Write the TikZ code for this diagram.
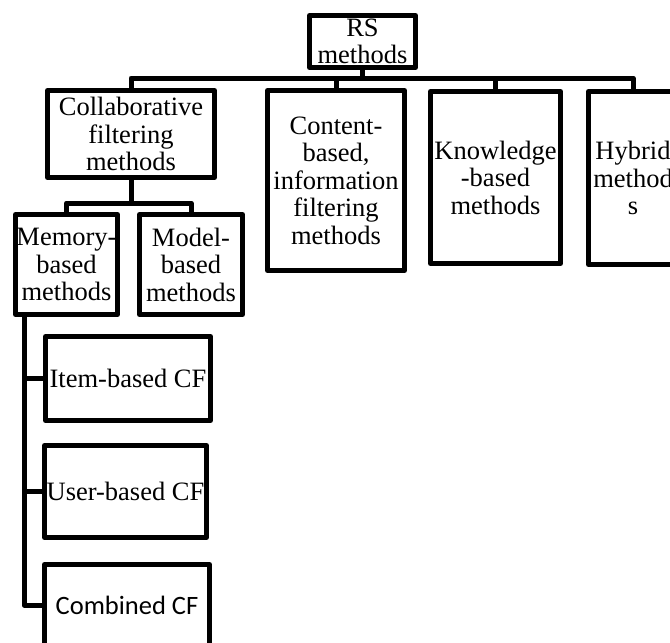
\documentclass[tikz,border=0pt]{standalone}
\usepackage{fontspec}
\setmainfont{Liberation Serif}
\newfontfamily\calibfont{Carlito}
\begin{document}
\begin{tikzpicture}[x=1pt,y=-1pt,
  box/.style={draw, line width=5pt, line join=round, inner sep=0pt, align=center,
    font={\fontsize{26.5}{27.5}\selectfont}},
  link/.style={line width=5pt, line join=round}]
\useasboundingbox (0,0) rectangle (670,643);
\clip (0,0) rectangle (670,643);
% top level
\node[box, minimum width=106pt, minimum height=52pt] (rs) at (362.5,41.5) {RS\\methods};
\node[box, minimum width=167pt, minimum height=87pt] (collab) at (131,134) {Collaborative\\filtering\\methods};
\node[box, minimum width=137pt, minimum height=180pt] (content) at (336,180.5) {Content-\\based,\\information\\filtering\\methods};
\node[box, minimum width=130pt, minimum height=172pt] (know) at (495.5,177.5) {Knowledge\\-based\\methods};
\node[box, minimum width=89pt, minimum height=173pt] (hyb) at (633,178) {Hybrid\\method\\s};
% second level
\node[box, minimum width=102pt, minimum height=100pt] (memory) at (66.5,264.5) {Memory-\\based\\methods};
\node[box, minimum width=103pt, minimum height=100pt] (model) at (191,264.5) {Model-\\based\\methods};
% third level
\node[box, minimum width=165pt, minimum height=84pt] (item) at (128,378.5) {Item-based CF};
\node[box, minimum width=162pt, minimum height=92pt] (user) at (125.5,491.5) {User-based CF};
\node[box, minimum width=165pt, minimum height=81pt, font={\calibfont\fontsize{26.5}{27.5}\selectfont}] (comb) at (127,605) {Combined CF};
% connectors
\coordinate (bus) at (0,78);
\coordinate (subbus) at (0,203);
\coordinate (trunk) at (24,0);
\draw[link] (rs.south) -- (rs.south |- bus);
\draw[link] (collab.north) -- (collab.north |- bus) -- (hyb.north |- bus) -- (hyb.north);
\draw[link] (content.north) -- (content.north |- bus);
\draw[link] (know.north) -- (know.north |- bus);
\draw[link] (collab.south) -- (collab.south |- subbus);
\draw[link] (memory.north) -- (memory.north |- subbus) -- (model.north |- subbus) -- (model.north);
\draw[link] (trunk |- memory.south) -- (trunk |- comb.west) -- (comb.west);
\draw[link] (trunk |- item.west) -- (item.west);
\draw[link] (trunk |- user.west) -- (user.west);
\end{tikzpicture}
\end{document}
